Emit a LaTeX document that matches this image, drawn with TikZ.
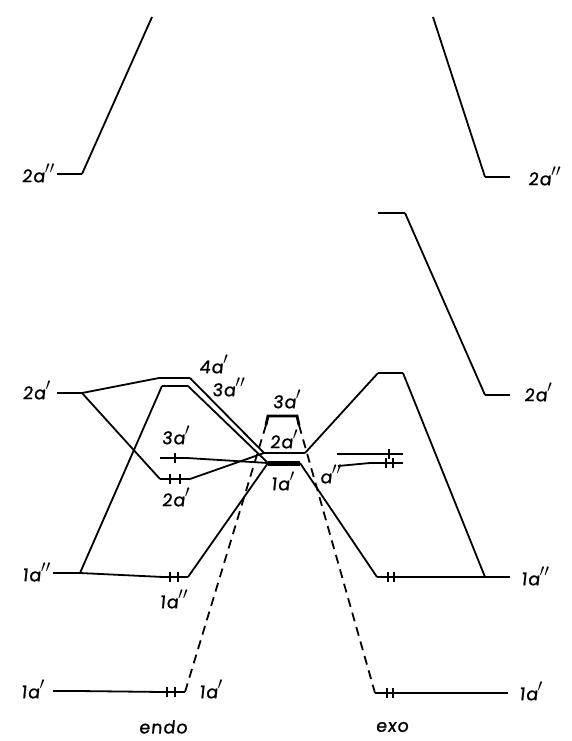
\documentclass[tikz,border=0pt]{standalone}
\usepackage{fontspec}
\newfontfamily\labfont[FakeSlant=0.1, FakeBold=1.2, LetterSpace=6]{Poppins}
\newcommand{\spr}{{\fontsize{23}{23}\selectfont$'$}}
\newcommand{\dpr}{{\fontsize{23}{23}\selectfont$''$}}

\begin{document}
\begin{tikzpicture}[x=1pt, y=-1pt,
        every node/.style={font=\labfont\fontsize{17.5}{17.5}\selectfont, inner sep=1pt},
        lvl/.style={line width=2.8pt},
        cor/.style={line width=1.8pt},
        dsh/.style={line width=1.8pt, dash pattern=on 9pt off 6pt},
        tick/.style={line width=1.8pt}]
      \useasboundingbox (0,0) rectangle (571,741);
      % left fragment
      \coordinate (L2pp-l) at (57,174);  \coordinate (L2pp-r) at (82,174);
      \coordinate (L2p-l) at (57,393);   \coordinate (L2p-r) at (82,393);
      \coordinate (L1pp-l) at (53,573);  \coordinate (L1pp-r) at (80,573);
      \coordinate (L1p-l) at (53,691);   \coordinate (L1p-r) at (78,691);
      \coordinate (Ltop) at (152,17);
      % endo
      \coordinate (N4p-l) at (159,378);  \coordinate (N4p-r) at (190,378);
      \coordinate (N3pp-l) at (162,386); \coordinate (N3pp-r) at (188,386);
      \coordinate (N3p-l) at (160,458);  \coordinate (N3p-r) at (187,458);
      \coordinate (N2p-l) at (160,479);  \coordinate (N2p-r) at (190,479);
      \coordinate (N1pp-l) at (163,577); \coordinate (N1pp-r) at (188,577);
      \coordinate (N1p-l) at (163,692);  \coordinate (N1p-r) at (185,692);
      % centre
      \coordinate (C3p-l) at (266,425);  \coordinate (C3p-r) at (299,425);
      \coordinate (C2p-l) at (264,453);  \coordinate (C2p-r) at (305,453);
      \coordinate (C1p-l) at (268,463);  \coordinate (C1p-r) at (300,463);
      % exo
      \coordinate (X4-l) at (378,213);   \coordinate (X4-r) at (405,213);
      \coordinate (X3-l) at (378,373);   \coordinate (X3-r) at (403,373);
      \coordinate (Xu-f) at (337,454);   \coordinate (Xu-l) at (370,454);   \coordinate (Xu-r) at (403,454);
      \coordinate (Xl-f) at (338,466);   \coordinate (Xl-l) at (370,463);   \coordinate (Xl-r) at (403,463);
      \coordinate (X1pp-l) at (377,577); \coordinate (X1pp-r) at (400,577);
      \coordinate (X1p-l) at (375,693);  \coordinate (X1p-r) at (400,693);
      % right fragment
      \coordinate (R2pp-l) at (485,177); \coordinate (R2pp-r) at (510,177);
      \coordinate (R2p-l) at (485,395);  \coordinate (R2p-r) at (510,395);
      \coordinate (R1pp-l) at (485,577); \coordinate (R1pp-r) at (510,577);
      \coordinate (R1p-l) at (485,693);  \coordinate (R1p-r) at (508,693);
      \coordinate (Rtop) at (433,17);

      % levels
      \draw[lvl] (L2pp-l) -- (L2pp-r);  \draw[lvl] (L2p-l) -- (L2p-r);
      \draw[lvl] (L1pp-l) -- (L1pp-r);  \draw[lvl] (L1p-l) -- (L1p-r);
      \draw[lvl] (N4p-l) -- (N4p-r);    \draw[lvl] (N3pp-l) -- (N3pp-r);
      \draw[lvl] (N3p-l) -- (N3p-r);    \draw[lvl] (N2p-l) -- (N2p-r);
      \draw[lvl] (N1pp-l) -- (N1pp-r);  \draw[lvl] (N1p-l) -- (N1p-r);
      \draw[lvl] (C2p-l) -- (C2p-r);
      \draw[line width=5pt] (C1p-l) -- (C1p-r);
      \draw[lvl] (C3p-l) -- ++(2,-9) -- ++(29,0) -- (C3p-r);
      \draw[lvl] (X4-l) -- (X4-r);      \draw[lvl] (X3-l) -- (X3-r);
      \draw[lvl] (Xu-l) -- (Xu-r);      \draw[lvl] (Xl-l) -- (Xl-r);
      \draw[lvl] (X1pp-l) -- (X1pp-r);  \draw[lvl] (X1p-l) -- (X1p-r);
      \draw[lvl] (R2pp-l) -- (R2pp-r);  \draw[lvl] (R2p-l) -- (R2p-r);
      \draw[lvl] (R1pp-l) -- (R1pp-r);  \draw[lvl] (R1p-l) -- (R1p-r);

      % correlation lines
      \draw[cor] (L2pp-r) -- (Ltop);
      \draw[cor] (R2pp-l) -- (Rtop);
      \draw[cor] (L2p-r) -- (N4p-l);
      \draw[cor] (L2p-r) -- (N2p-l);
      \draw[cor] (L1pp-r) -- (N3pp-l);
      \draw[cor] (L1pp-r) -- (N1pp-l);
      \draw[cor] (L1p-r) -- (N1p-l);
      \draw[cor] (N4p-r) -- (C2p-l);
      \draw[cor] (N3pp-r) -- (C1p-l);
      \draw[cor] (N3p-r) -- (C1p-l);
      \draw[cor] (N2p-r) -- (C2p-l);
      \draw[cor] (N1pp-r) -- (C1p-l);
      \draw[dsh] (N1p-r) -- (C3p-l);
      \draw[dsh] (C3p-r) -- (X1p-l);
      \draw[cor] (C2p-r) -- (X3-l);
      \draw[cor] (C1p-r) -- (X1pp-l);
      \draw[cor] (X3-r) -- (R1pp-l);
      \draw[cor] (X4-r) -- (R2p-l);
      \draw[cor] (Xu-f) -- (Xu-l);
      \draw[cor] (Xl-f) -- (Xl-l);
      \draw[cor] (X1pp-r) -- (R1pp-l);
      \draw[cor] (X1p-r) -- (R1p-l);

      % electrons
      \foreach \x/\y in {175/458, 170/479, 180/479, 170/577, 178/577, 167/692, 175/692,
                         389/454, 386/463, 393/463, 388/577, 394/577, 387/693, 393/693}
        \draw[tick] (\x,\y-5) -- (\x,\y+5);

      % labels
      \node[anchor=east] (tL2pp) at (56,173) {2a\dpr};
      \node[anchor=east] (tL2p) at (52,390) {2a\spr};
      \node[anchor=east] (tL1pp) at (52,572) {1a\dpr};
      \node[anchor=east] (tL1p) at (46,689) {1a\spr};
      \node[anchor=west] (tN4p) at (198,364) {4a\spr};
      \node[anchor=west] (tN3pp) at (211,387) {3a\dpr};
      \node (tN3p) at (176,435) {3a\spr};
      \node (tN2p) at (176,497) {2a\spr};
      \node (tN1pp) at (174,599) {1a\dpr};
      \node[anchor=west] (tN1p) at (198,689) {1a\spr};
      \node (tC3p) at (287,399) {3a\spr};
      \node (tC2p) at (284,439) {2a\spr};
      \node (tC1p) at (283,481) {1a\spr};
      \node (tXapp) at (331,474) {a\dpr};
      \node[anchor=west] (tR2pp) at (527,176) {2a\dpr};
      \node[anchor=west] (tR2p) at (523,392) {2a\spr};
      \node[anchor=west] (tR1pp) at (520,576) {1a\dpr};
      \node[anchor=west] (tR1p) at (518,691) {1a\spr};
      \node (endo) at (163,727) {endo};
      \node (exo) at (392,727) {exo};
    \end{tikzpicture}
\end{document}
